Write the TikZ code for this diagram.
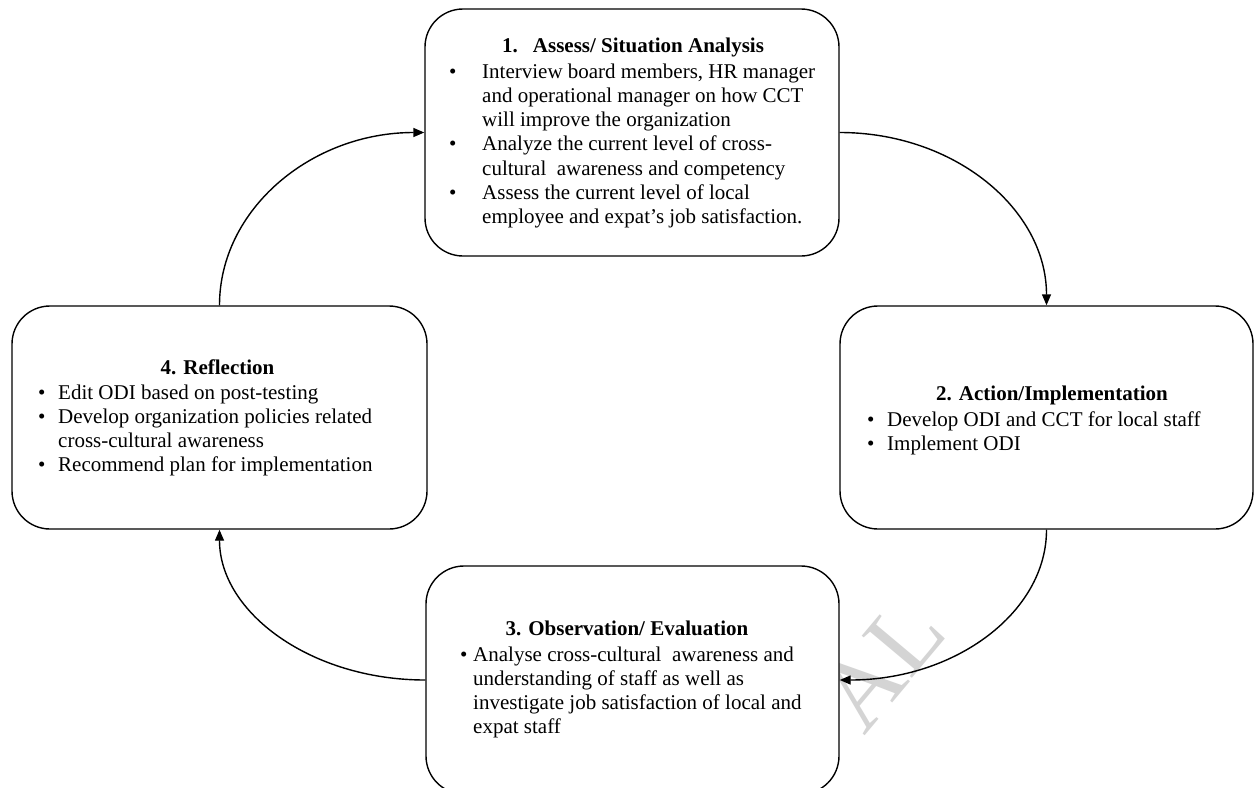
\documentclass[tikz,border=0pt]{standalone}
\usepackage{fontspec}
\setmainfont{Liberation Serif}
\usetikzlibrary{arrows.meta}
\newcommand\bl[1]{\makebox[#1][l]{\textbullet}}
\begin{document}
\begin{tikzpicture}[x=1pt,y=-1pt,
  box/.style={draw,line width=1.4pt,rounded corners=38pt,fill=white,inner sep=0pt},
  ttl/.style={font=\fontsize{21}{24}\selectfont\bfseries,anchor=base,inner sep=0pt},
  body/.style={font=\fontsize{21}{24}\selectfont,anchor=base west,inner sep=0pt},
  arr/.style={line width=1.4pt,-{Triangle[length=11pt,width=9pt]}},
  wmark/.style={text=black!17,font=\fontsize{100}{100}\selectfont,rotate=50,inner sep=0pt}]
\useasboundingbox (0,0) rectangle (1255,787);
\fill[white] (0,0) rectangle (1255,787);
% boxes
\node[box,minimum width=414pt,minimum height=247pt] (b1) at (632,132.5) {};
\node[box,minimum width=413pt,minimum height=223pt] (b2) at (1046.5,417.5) {};
\node[box,minimum width=415pt,minimum height=223pt] (b4) at (219.5,417.5) {};
\node[wmark] (wm) at (882,664) {AL};
\node[box,minimum width=413pt,minimum height=228pt] (b3) at (632.5,680) {};
% box 1
\node[ttl,anchor=base west] (t1) at (502,52) {1.\hspace{15pt}Assess/ Situation Analysis};
\node[body,font=\fontsize{21}{24.3}\selectfont] (x1) at (449,78) {\begin{tabular}[t]{@{}l@{}l@{}}
\bl{33pt} & Interview board members, HR manager\\
 & and operational manager on how CCT\\
 & will improve the organization\\
\bl{33pt} & Analyze the current level of cross-\\
 & cultural\ \ awareness and competency\\
\bl{33pt} & Assess the current level of local\\
 & employee and expat’s job satisfaction.
\end{tabular}};
% box 2
\node[ttl] (t2) at (1052,400) {2. Action/Implementation};
\node[body] (x2) at (867,426) {\begin{tabular}[t]{@{}l@{}l@{}}
\bl{20pt} & Develop ODI and CCT for local staff\\
\bl{20pt} & Implement ODI
\end{tabular}};
% box 4
\node[ttl] (t4) at (217.5,374) {4. Reflection};
\node[body] (x4) at (38,399) {\begin{tabular}[t]{@{}l@{}l@{}}
\bl{20pt} & Edit ODI based on post-testing\\
\bl{20pt} & Develop organization policies related\\
 & cross-cultural awareness\\
\bl{20pt} & Recommend plan for implementation
\end{tabular}};
% box 3
\node[ttl] (t3) at (627,635) {3. Observation/ Evaluation};
\node[body] (x3) at (460,661) {\begin{tabular}[t]{@{}l@{}l@{}}
\bl{13pt} & Analyse cross-cultural\ \ awareness and\\
 & understanding of staff as well as\\
 & investigate job satisfaction of local and\\
 & expat staff
\end{tabular}};
% arrows
\draw[arr] (b4.north) .. controls +(0,-96) and +(-113,0) .. (b1.west);
\draw[arr] (b1.east) .. controls +(115,0) and +(0,-96) .. (b2.north);
\draw[arr] (b2.south) .. controls +(0,83) and +(115,0) .. (b3.east);
\draw[arr] (b3.west) .. controls +(-114,0) and +(0,83) .. (b4.south);
\end{tikzpicture}
\end{document}
